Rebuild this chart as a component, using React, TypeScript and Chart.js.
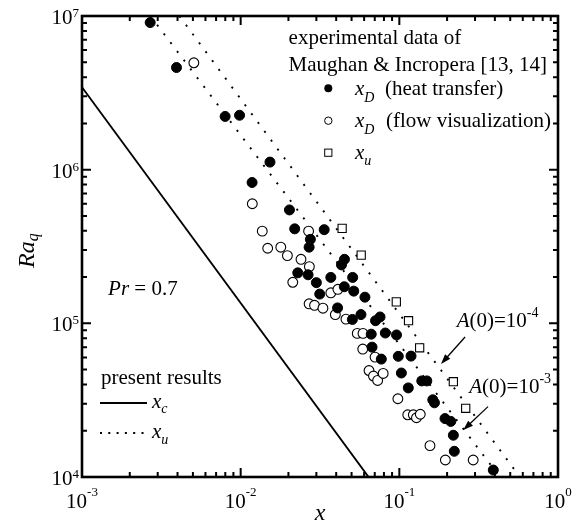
import React, { useEffect, useRef } from "react";
import { Chart, registerables } from "chart.js";

Chart.register(...registerables);

// ---- data ----
const heatTransferX = [
  0.00269, 0.00394, 0.00798, 0.00984, 0.0153, 0.0118, 0.0203, 0.0219, 0.0336, 0.0275,
  0.027, 0.0451, 0.0432, 0.0229, 0.0266, 0.037, 0.0508, 0.03, 0.045, 0.0516,
  0.0315, 0.0607, 0.0408, 0.0573, 0.0506, 0.0708, 0.0756, 0.0665, 0.0816, 0.096,
  0.0673, 0.077, 0.0985, 0.1185, 0.103, 0.1139, 0.1385, 0.149, 0.1625, 0.1665,
  0.194, 0.211, 0.219, 0.222, 0.391,
];
const heatTransferY = [
  9.06e6, 4.62e6, 2.22e6, 2.26e6, 1.12e6, 8.25e5, 5.47e5, 4.12e5, 4.07e5, 3.52e5,
  3.13e5, 2.61e5, 2.4e5, 2.13e5, 2.07e5, 1.99e5, 1.99e5, 1.84e5, 1.73e5, 1.62e5,
  1.55e5, 1.48e5, 1.26e5, 1.14e5, 1.06e5, 1.04e5, 1.1e5, 8.5e4, 8.65e4, 8.4e4,
  7.0e4, 5.85e4, 6.1e4, 6.12e4, 4.75e4, 3.8e4, 4.22e4, 4.22e4, 3.18e4, 3.04e4,
  2.4e4, 2.3e4, 1.87e4, 1.47e4, 1.11e4,
];
const flowVisX = [
  0.00507, 0.01184, 0.01368, 0.0268, 0.0148, 0.0179, 0.0197, 0.024, 0.0271, 0.0213,
  0.037, 0.041, 0.027, 0.0292, 0.033, 0.0395, 0.0461, 0.0543, 0.059, 0.0588,
  0.0703, 0.0644, 0.0687, 0.073, 0.0791, 0.0979, 0.113, 0.1225, 0.1282, 0.1355,
  0.156, 0.195, 0.292,
];
const flowVisY = [
  4.96e6, 6.0e5, 3.98e5, 3.98e5, 3.08e5, 3.13e5, 2.76e5, 2.61e5, 2.34e5, 1.85e5,
  1.58e5, 1.665e5, 1.34e5, 1.31e5, 1.255e5, 1.14e5, 1.065e5, 8.6e4, 8.6e4, 6.8e4,
  6.03e4, 4.93e4, 4.54e4, 4.25e4, 4.72e4, 3.23e4, 2.54e4, 2.54e4, 2.43e4, 2.56e4,
  1.6e4, 1.29e4, 1.29e4,
];
const xuExpX = [0.0436, 0.0575, 0.0957, 0.1143, 0.1343, 0.219, 0.262];
const xuExpY = [4.15e5, 2.78e5, 1.38e5, 1.04e5, 6.93e4, 4.17e4, 2.8e4];

const xcLineX = [0.001, 0.064];
const xcLineY = [3.44e6, 1e4];
const xuA4X = [0.00411, 0.575];
const xuA4Y = [1e7, 1e4];
const xuA3X = [0.0027, 0.43];
const xuA3Y = [1e7, 1e4];

const xTickExps = [-3, -2, -1, 0];
const yTickExps = [4, 5, 6, 7];
const tickMultiples = [1, 2, 3, 4, 5, 6, 7, 8, 9];

// annotation anchors (data coordinates)
const arrowA4 = { from: [0.2596, 8.15e4], to: [0.1831, 5.44e4] };
const arrowA3 = { from: [0.362, 2.87e4], to: [0.253, 2.02e4] };
const labelA4 = [0.2298, 9.46e4];
const labelA3 = [0.276, 3.52e4];
const labelPr = [0.00146, 1.53e5];

const SERIF = "'Liberation Serif', 'Times New Roman', serif";
const f = (size: number, italic = false) => `${italic ? "italic " : ""}${size}px ${SERIF}`;

function pts(xs: number[], ys: number[]) {
  return xs.map((x, i) => ({ x, y: ys[i] }));
}

type Run = { t: string; font: string; dy?: number };
function runs(ctx: CanvasRenderingContext2D, list: Run[], x: number, y: number) {
  let cx = x;
  ctx.textAlign = "left";
  ctx.textBaseline = "alphabetic";
  for (const r of list) {
    ctx.font = r.font;
    ctx.fillText(r.t, cx, y + (r.dy || 0));
    cx += ctx.measureText(r.t).width;
  }
  return cx;
}
function runsWidth(ctx: CanvasRenderingContext2D, list: Run[]) {
  let w = 0;
  for (const r of list) {
    ctx.font = r.font;
    w += ctx.measureText(r.t).width;
  }
  return w;
}

function arrow(ctx: CanvasRenderingContext2D, x1: number, y1: number, x2: number, y2: number) {
  const ang = Math.atan2(y2 - y1, x2 - x1);
  const hl = 10, hw = 3.5;
  ctx.beginPath();
  ctx.moveTo(x1, y1);
  ctx.lineTo(x2 - Math.cos(ang) * hl * 0.8, y2 - Math.sin(ang) * hl * 0.8);
  ctx.lineWidth = 1.3;
  ctx.stroke();
  ctx.beginPath();
  ctx.moveTo(x2, y2);
  ctx.lineTo(x2 - Math.cos(ang) * hl - Math.sin(ang) * hw, y2 - Math.sin(ang) * hl + Math.cos(ang) * hw);
  ctx.lineTo(x2 - Math.cos(ang) * hl + Math.sin(ang) * hw, y2 - Math.sin(ang) * hl - Math.cos(ang) * hw);
  ctx.closePath();
  ctx.fill();
}

const decorPlugin = {
  id: "decor",
  afterDraw(chart: any) {
    const ctx: CanvasRenderingContext2D = chart.ctx;
    const xs = chart.scales.x;
    const ys = chart.scales.y;
    const { left, right, top, bottom } = chart.chartArea;
    const X = (v: number) => xs.getPixelForValue(v);
    const Y = (v: number) => ys.getPixelForValue(v);
    ctx.save();
    ctx.fillStyle = "#000";
    ctx.strokeStyle = "#000";
    ctx.lineCap = "butt";

    // ticks (inward, all four sides)
    ctx.lineWidth = 2;
    ctx.beginPath();
    for (const e of xTickExps) {
      for (const m of tickMultiples) {
        const v = m * Math.pow(10, e);
        if (v > 1.0001) continue;
        const px = X(v);
        const len = m === 1 ? 9 : 5;
        ctx.moveTo(px, bottom); ctx.lineTo(px, bottom - len);
        ctx.moveTo(px, top); ctx.lineTo(px, top + len);
      }
    }
    for (const e of yTickExps) {
      for (const m of tickMultiples) {
        const v = m * Math.pow(10, e);
        if (v > 1.0001e7) continue;
        const py = Y(v);
        const len = m === 1 ? 9 : 5;
        ctx.moveTo(left, py); ctx.lineTo(left + len, py);
        ctx.moveTo(right, py); ctx.lineTo(right - len, py);
      }
    }
    ctx.stroke();

    // frame
    ctx.lineWidth = 2.6;
    ctx.strokeRect(left, top, right - left, bottom - top);

    // tick labels
    for (const e of xTickExps) {
      const px = X(Math.pow(10, e));
      const list: Run[] = [
        { t: "10", font: f(21) },
        { t: String(e), font: f(13), dy: -12 },
      ];
      const w = runsWidth(ctx, list);
      runs(ctx, list, px - w / 2, bottom + 31);
    }
    for (const e of yTickExps) {
      const py = Y(Math.pow(10, e));
      const list: Run[] = [
        { t: "10", font: f(21) },
        { t: String(e), font: f(13), dy: -7 },
      ];
      const w = runsWidth(ctx, list);
      runs(ctx, list, left - 3 - w, py + 8);
    }

    // axis titles
    ctx.font = f(24, true);
    ctx.textAlign = "center";
    ctx.textBaseline = "alphabetic";
    ctx.fillText("x", (left + right) / 2, 520);

    ctx.save();
    ctx.translate(34, 268);
    ctx.rotate(-Math.PI / 2);
    runs(ctx, [
      { t: "Ra", font: f(24, true) },
      { t: "q", font: f(16, true), dy: 4 },
    ], 0, 0);
    ctx.restore();

    // top-right legend
    const lx = left + 206.6;
    runs(ctx, [{ t: "experimental data of", font: f(21) }], lx, top + 28);
    runs(ctx, [{ t: "Maughan & Incropera [13, 14]", font: f(21) }], lx, top + 55);
    const mx = left + 246.3;
    const tx = left + 273;
    const rowY = [top + 72.3, top + 104.7, top + 136.7];
    ctx.beginPath();
    ctx.arc(mx, rowY[0], 4, 0, Math.PI * 2);
    ctx.fill();
    ctx.beginPath();
    ctx.arc(mx, rowY[1], 3.7, 0, Math.PI * 2);
    ctx.lineWidth = 1;
    ctx.stroke();
    ctx.strokeRect(mx - 3.6, rowY[2] - 3.6, 7.2, 7.2);
    runs(ctx, [
      { t: "x", font: f(21, true) },
      { t: "D", font: f(14, true), dy: 7 },
    ], tx, rowY[0] + 6.7);
    runs(ctx, [{ t: "(heat transfer)", font: f(21) }], tx + 30, rowY[0] + 6.7);
    runs(ctx, [
      { t: "x", font: f(21, true) },
      { t: "D", font: f(14, true), dy: 7 },
    ], tx, rowY[1] + 6.7);
    runs(ctx, [{ t: "(flow visualization)", font: f(21) }], tx + 31, rowY[1] + 6.7);
    runs(ctx, [
      { t: "x", font: f(21, true) },
      { t: "u", font: f(14, true), dy: 6 },
    ], tx, rowY[2] + 6.7);

    // bottom-left legend
    const bx = left + 19;
    runs(ctx, [{ t: "present results", font: f(21) }], bx, bottom - 93);
    ctx.lineWidth = 1.8;
    ctx.beginPath();
    ctx.moveTo(bx - 1, bottom - 74);
    ctx.lineTo(bx + 46, bottom - 74);
    ctx.stroke();
    runs(ctx, [
      { t: "x", font: f(21, true) },
      { t: "c", font: f(14, true), dy: 5 },
    ], bx + 51, bottom - 69);
    ctx.lineWidth = 1.8;
    ctx.setLineDash([2, 6.3]);
    ctx.beginPath();
    ctx.moveTo(bx - 1, bottom - 44);
    ctx.lineTo(bx + 46, bottom - 44);
    ctx.stroke();
    ctx.setLineDash([]);
    runs(ctx, [
      { t: "x", font: f(21, true) },
      { t: "u", font: f(14, true), dy: 6 },
    ], bx + 51, bottom - 39);

    // Pr label
    runs(ctx, [
      { t: "Pr", font: f(21, true) },
      { t: " = 0.7", font: f(21) },
    ], X(labelPr[0]), Y(labelPr[1]));

    // A(0) labels
    const aLabel = (pos: number[], exp: string) =>
      runs(ctx, [
        { t: "A", font: f(21, true) },
        { t: "(0)=10", font: f(21) },
        { t: exp, font: f(14), dy: -10 },
      ], X(pos[0]), Y(pos[1]));
    aLabel(labelA4, "-4");
    aLabel(labelA3, "-3");

    // arrows
    arrow(ctx, X(arrowA4.from[0]), Y(arrowA4.from[1]), X(arrowA4.to[0]), Y(arrowA4.to[1]));
    arrow(ctx, X(arrowA3.from[0]), Y(arrowA3.from[1]), X(arrowA3.to[0]), Y(arrowA3.to[1]));

    ctx.restore();
  },
};

export default function App() {
  const ref = useRef<HTMLCanvasElement | null>(null);
  useEffect(() => {
    if (!ref.current) return;
    const chart = new Chart(ref.current, {
      type: "scatter",
      data: {
        datasets: [
          {
            label: "x_D (heat transfer)",
            data: pts(heatTransferX, heatTransferY),
            pointStyle: "circle",
            pointRadius: 5,
            backgroundColor: "#000",
            borderColor: "#000",
            borderWidth: 1,
            order: 1,
            clip: false,
          },
          {
            label: "x_D (flow visualization)",
            data: pts(flowVisX, flowVisY),
            pointStyle: "circle",
            pointRadius: 4.9,
            backgroundColor: "#fff",
            borderColor: "#000",
            borderWidth: 1.1,
            order: 2,
            clip: false,
          },
          {
            label: "x_u (experiment)",
            data: pts(xuExpX, xuExpY),
            pointStyle: "rect",
            pointRadius: 5.8,
            backgroundColor: "#fff",
            borderColor: "#000",
            borderWidth: 1.1,
            order: 3,
            clip: false,
          },
          {
            label: "x_c",
            data: pts(xcLineX, xcLineY),
            showLine: true,
            pointRadius: 0,
            borderColor: "#000",
            borderWidth: 1.9,
            order: 10,
          },
          {
            label: "x_u A(0)=1e-4",
            data: pts(xuA4X, xuA4Y),
            showLine: true,
            pointRadius: 0,
            borderColor: "#000",
            borderWidth: 1.9,
            borderDash: [2, 9],
            order: 11,
          },
          {
            label: "x_u A(0)=1e-3",
            data: pts(xuA3X, xuA3Y),
            showLine: true,
            pointRadius: 0,
            borderColor: "#000",
            borderWidth: 1.9,
            borderDash: [2, 9],
            order: 12,
          },
        ],
      },
      options: {
        responsive: false,
        animation: false,
        devicePixelRatio: 1,
        events: [],
        layout: { padding: { left: 82, right: 21, top: 16, bottom: 46 } },
        plugins: { legend: { display: false }, tooltip: { enabled: false } },
        scales: {
          x: { type: "logarithmic", min: 1e-3, max: 1, display: false },
          y: { type: "logarithmic", min: 1e4, max: 1e7, display: false },
        },
      },
      plugins: [decorPlugin],
    } as any);
    return () => chart.destroy();
  }, []);
  return (
    <div style={{ position: "absolute", left: 0, top: 0, width: 579, height: 523, background: "#fff" }}>
      <canvas ref={ref} width={579} height={523} style={{ width: 579, height: 523, display: "block" }} />
    </div>
  );
}
